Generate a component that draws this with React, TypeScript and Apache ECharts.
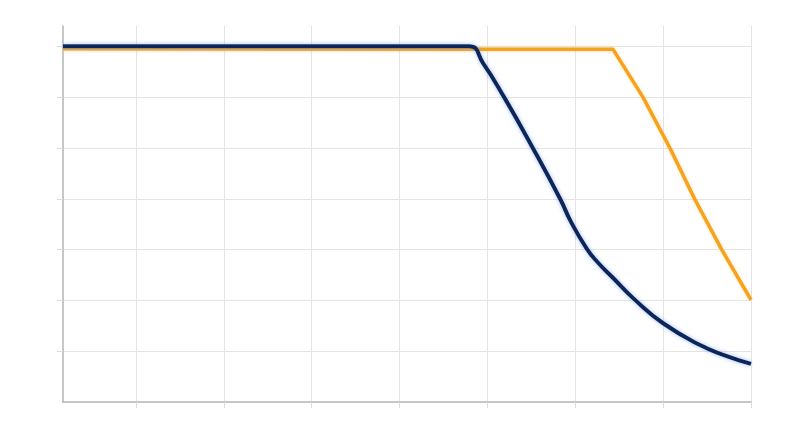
import React, { useEffect, useRef } from "react";
import * as echarts from "echarts";

// x positions (grid units) and values
const navyX = [0.17, 4.79, 4.95, 5.19, 5.52, 5.83, 5.95, 6.13, 6.26, 6.42, 6.68, 7.0, 7.42, 7.70, 8.0];
const navyY = [7.0, 7.0, 6.67, 6.0, 4.99, 3.99, 3.55, 3.02, 2.74, 2.46, 2.01, 1.55, 1.12, 0.92, 0.75];

const orangeX = [0.17, 6.43, 6.77, 7.08, 7.36, 7.67, 8.0];
const orangeY = [6.95, 6.94, 6.0, 4.99, 3.99, 2.99, 2.01];

const xTicks = [1, 2, 3, 4, 5, 6, 7, 8];
const yTicks = [1, 2, 3, 4, 5, 6, 7];

const X_MIN = 0.17;
const X_MAX = 8;
const Y_MIN = 0;
const Y_MAX = 7.4;

const zip = (xs: number[], ys: number[]) => xs.map((x, i) => [x, ys[i]]);

export default function App() {
  const ref = useRef<HTMLDivElement>(null);
  useEffect(() => {
    if (!ref.current) return;
    const chart = echarts.init(ref.current, null, { renderer: "svg" });
    const axisCommon = {
      type: "value" as const,
      axisLabel: { show: false },
      axisLine: { show: true, lineStyle: { color: "#b4b4b4", width: 1.5 } },
      splitLine: { show: true, lineStyle: { color: "#e4e4e4", width: 1 } },
    };
    chart.setOption({
      animation: false,
      backgroundColor: "#ffffff",
      grid: { left: 63, right: 49, top: 26, bottom: 45, containLabel: false },
      xAxis: {
        ...axisCommon,
        min: X_MIN,
        max: X_MAX,
        axisTick: { show: true, length: 6, customValues: xTicks, lineStyle: { color: "#dcdcdc" } },
      },
      yAxis: {
        ...axisCommon,
        min: Y_MIN,
        max: Y_MAX,
        axisTick: { show: true, length: 6, customValues: yTicks, lineStyle: { color: "#dcdcdc" } },
      },
      series: [
        {
          type: "line",
          data: zip(orangeX, orangeY),
          showSymbol: false,
          symbol: "none",
          lineStyle: {
            color: "#f5a21b",
            width: 3.5,
            shadowColor: "rgba(255,205,110,0.7)",
            shadowBlur: 3,
          },
          z: 2,
        },
        {
          type: "line",
          data: zip(navyX, navyY),
          showSymbol: false,
          symbol: "none",
          smooth: 0.5,
          lineStyle: {
            color: "#10275a",
            width: 4,
            shadowColor: "rgba(120,160,230,0.7)",
            shadowBlur: 4,
          },
          z: 3,
        },
      ],
    });
    return () => chart.dispose();
  }, []);
  return (
    <div
      ref={ref}
      style={{ position: "fixed", left: 0, top: 0, width: 800, height: 447 }}
    />
  );
}
